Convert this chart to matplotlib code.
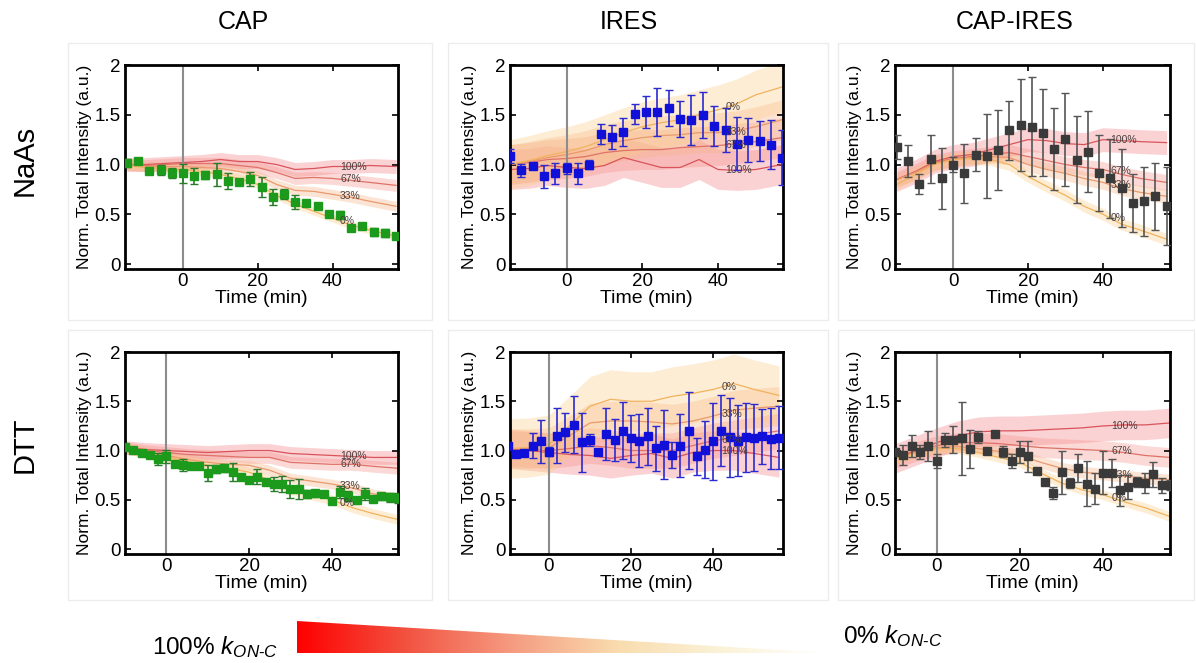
import numpy as np
import matplotlib
matplotlib.use("Agg")
import matplotlib.pyplot as plt
from matplotlib.colors import LinearSegmentedColormap
from matplotlib.patches import Polygon, Rectangle

plt.rcParams['font.family'] = ['Liberation Sans', 'DejaVu Sans']
plt.rcParams['mathtext.fontset'] = 'custom'
plt.rcParams['mathtext.rm'] = 'Liberation Sans'
plt.rcParams['mathtext.it'] = 'Liberation Sans:italic'

# time points of the measurements
t_top = np.arange(-15, 58, 3)
t_bot = np.arange(-10, 57, 2)
# time grid of the model curves
tm_top = [-15, -10, -5, 0, 5, 10, 15, 20, 25, 30, 35, 40, 45, 50, 57]
tm_bot = [-10, -5, 0, 5, 10, 15, 20, 25, 30, 35, 40, 45, 50, 56]

columns = ['CAP', 'IRES', 'CAP-IRES']
rows = ['NaAs', 'DTT']
model_labels = ['100%', '67%', '33%', '0%']

# CAP / NaAs
a_y = [1.02, 1.035, 0.935, 0.945, 0.91, 0.91, 0.88, 0.89, 0.90, 0.83, 0.82, 0.85, 0.77,
       0.67, 0.70, 0.62, 0.61, 0.58, 0.50, 0.49, 0.365, 0.38, 0.325, 0.31, 0.285]
a_err = [0.04, 0.02, 0.02, 0.05, 0.05, 0.1, 0.08, 0.04, 0.12, 0.08, 0.02, 0.07, 0.1,
         0.08, 0.05, 0.07, 0.03, 0.03, 0.02, 0.04, 0.02, 0.02, 0.04, 0.04, 0.03]
a_m100 = [1.0, 1.0, 1.01, 1.02, 1.03, 1.05, 1.03, 1.03, 1.0, 0.95, 0.96, 0.98, 0.98, 0.99, 0.98]
a_m67 = [1.0, 0.99, 1.0, 1.01, 1.01, 1.01, 0.99, 0.97, 0.92, 0.86, 0.87, 0.86, 0.84, 0.82, 0.79]
a_m33 = [1.0, 0.98, 0.98, 0.98, 0.97, 0.96, 0.93, 0.89, 0.8, 0.74, 0.73, 0.7, 0.67, 0.63, 0.58]
a_m0 = [0.99, 0.97, 0.96, 0.95, 0.93, 0.9, 0.86, 0.8, 0.69, 0.6, 0.53, 0.46, 0.39, 0.34, 0.28]
a_w = [0.07, 0.06, 0.05, 0.04]

# IRES / NaAs
b_y = [1.09, 0.94, 0.99, 0.88, 0.91, 0.96, 0.91, 1.0, 1.31, 1.28, 1.33, 1.51, 1.53,
       1.53, 1.57, 1.46, 1.45, 1.5, 1.39, 1.35, 1.21, 1.25, 1.24, 1.2, 1.07]
b_err = [0.07, 0.07, 0.03, 0.12, 0.11, 0.06, 0.11, 0.05, 0.1, 0.12, 0.14, 0.1, 0.16,
         0.24, 0.18, 0.18, 0.25, 0.23, 0.2, 0.22, 0.27, 0.22, 0.2, 0.25, 0.28]
b_m100 = [0.95, 0.96, 0.99, 0.97, 0.96, 0.99, 1.07, 1.02, 0.97, 0.97, 1.05, 0.95, 0.94, 0.95, 1.0]
b_m67 = [1.0, 1.02, 1.05, 1.06, 1.08, 1.12, 1.14, 1.15, 1.15, 1.17, 1.18, 1.19, 1.21, 1.23, 1.27]
b_m33 = [1.0, 1.03, 1.07, 1.1, 1.14, 1.2, 1.24, 1.27, 1.29, 1.3, 1.32, 1.32, 1.34, 1.38, 1.45]
b_m0 = [1.0, 1.04, 1.09, 1.13, 1.18, 1.25, 1.32, 1.38, 1.42, 1.45, 1.5, 1.55, 1.61, 1.7, 1.78]
b_w = [0.2, 0.2, 0.2, 0.25]

# CAP-IRES / NaAs
c_y = [1.175, 1.034, 0.8, 1.057, 0.86, 1.0, 0.91, 1.1, 1.084, 1.145, 1.343, 1.397, 1.38,
       1.32, 1.158, 1.253, 1.05, 1.13, 0.916, 0.86, 0.764, 0.613, 0.63, 0.68, 0.586]
c_err = [0.12, 0.16, 0.1, 0.24, 0.31, 0.08, 0.3, 0.17, 0.42, 0.4, 0.3, 0.46, 0.5,
         0.44, 0.41, 0.47, 0.44, 0.41, 0.38, 0.4, 0.39, 0.29, 0.35, 0.34, 0.39]
c_m100 = [0.85, 0.93, 1.03, 1.08, 1.1, 1.15, 1.2, 1.25, 1.24, 1.21, 1.2, 1.25, 1.24, 1.23, 1.22]
c_m67 = [0.85, 0.93, 1.02, 1.06, 1.08, 1.1, 1.12, 1.08, 1.04, 1.0, 0.97, 0.95, 0.9, 0.86, 0.82]
c_m33 = [0.85, 0.92, 1.01, 1.05, 1.07, 1.08, 1.07, 1.0, 0.95, 0.91, 0.86, 0.82, 0.76, 0.72, 0.68]
c_m0 = [0.8, 0.9, 1.0, 1.05, 1.06, 1.05, 1.0, 0.88, 0.78, 0.69, 0.58, 0.5, 0.4, 0.34, 0.25]
c_w = [0.12, 0.08, 0.07, 0.06]

# CAP / DTT
d_y = [1.04, 1.007, 0.98, 0.953, 0.912, 0.94, 0.86, 0.85, 0.845, 0.84, 0.77, 0.81, 0.82,
       0.78, 0.733, 0.70, 0.736, 0.676, 0.66, 0.66, 0.608, 0.608, 0.557, 0.564, 0.557,
       0.49, 0.58, 0.54, 0.5, 0.557, 0.507, 0.534, 0.524, 0.517]
d_err = [0.02, 0.02, 0.02, 0.02, 0.06, 0.07, 0.02, 0.06, 0.03, 0.02, 0.08, 0.04, 0.04,
         0.09, 0.03, 0.03, 0.08, 0.03, 0.07, 0.08, 0.09, 0.1, 0.04, 0.04, 0.03,
         0.03, 0.06, 0.05, 0.03, 0.06, 0.03, 0.04, 0.05, 0.05]
d_m100 = [1.03, 1.01, 1.0, 0.99, 0.98, 0.99, 1.0, 1.0, 0.97, 0.96, 0.95, 0.94, 0.93, 0.93]
d_m67 = [1.03, 1.0, 0.98, 0.96, 0.95, 0.94, 0.93, 0.93, 0.88, 0.87, 0.86, 0.86, 0.84, 0.82]
d_m33 = [1.03, 0.99, 0.95, 0.91, 0.88, 0.86, 0.85, 0.8, 0.72, 0.69, 0.66, 0.62, 0.56, 0.52]
d_m0 = [1.02, 0.97, 0.93, 0.89, 0.85, 0.82, 0.78, 0.7, 0.6, 0.55, 0.5, 0.42, 0.36, 0.3]
d_w = [0.07, 0.06, 0.05, 0.05]

# IRES / DTT
e_y = [1.05, 0.966, 0.976, 1.05, 1.094, 0.99, 1.15, 1.185, 1.26, 1.084, 1.108, 0.983, 1.168,
       1.108, 1.2, 1.125, 1.1, 1.145, 1.024, 1.057, 0.956, 1.05, 1.2, 0.94, 1.01,
       1.094, 1.2, 1.135, 1.1, 1.135, 1.128, 1.145, 1.118, 1.128]
e_err = [0.03, 0.02, 0.02, 0.13, 0.22, 0.05, 0.28, 0.2, 0.29, 0.3, 0.06, 0.02, 0.26,
         0.21, 0.29, 0.24, 0.27, 0.29, 0.23, 0.35, 0.13, 0.32, 0.39, 0.19, 0.29,
         0.39, 0.36, 0.4, 0.36, 0.35, 0.34, 0.28, 0.31, 0.32]
e_m100 = [1.02, 1.0, 0.98, 0.96, 0.95, 0.92, 0.95, 0.97, 0.92, 0.98, 1.0, 1.0, 0.97, 0.93]
e_m67 = [1.02, 1.01, 1.0, 1.02, 1.05, 1.03, 1.0, 1.0, 1.0, 1.05, 1.1, 1.13, 1.16, 1.2]
e_m33 = [1.02, 1.02, 1.03, 1.15, 1.28, 1.3, 1.3, 1.29, 1.27, 1.3, 1.35, 1.41, 1.43, 1.45]
e_m0 = [1.02, 1.03, 1.06, 1.25, 1.45, 1.52, 1.5, 1.5, 1.55, 1.58, 1.62, 1.68, 1.62, 1.56]
e_w = [0.2, 0.18, 0.2, 0.3]

# CAP-IRES / DTT
f_y = [0.99, 0.956, 1.044, 0.983, 1.044, 0.89, 1.11, 1.11, 1.125, 1.017, 1.135, 1.0, 1.168,
       0.99, 0.892, 0.983, 0.94, 0.788, 0.68, 0.57, 0.78, 0.673, 0.82, 0.663, 0.613,
       0.774, 0.77, 0.596, 0.63, 0.68, 0.67, 0.758, 0.646, 0.646]
f_err = [0.03, 0.1, 0.11, 0.07, 0.15, 0.07, 0.07, 0.14, 0.37, 0.19, 0.06, 0.01, 0.03,
         0.06, 0.07, 0.11, 0.16, 0.01, 0.01, 0.06, 0.22, 0.05, 0.14, 0.23, 0.16,
         0.22, 0.14, 0.16, 0.12, 0.05, 0.1, 0.13, 0.08, 0.05]
f_m100 = [0.92, 1.0, 1.08, 1.15, 1.19, 1.2, 1.2, 1.21, 1.22, 1.23, 1.25, 1.26, 1.26, 1.28]
f_m67 = [0.92, 0.99, 1.05, 1.08, 1.08, 1.07, 1.05, 1.03, 1.02, 1.01, 1.0, 0.98, 0.95, 0.93]
f_m33 = [0.92, 0.98, 1.03, 1.04, 1.02, 0.99, 0.95, 0.88, 0.82, 0.78, 0.76, 0.74, 0.72, 0.7]
f_m0 = [0.92, 0.97, 1.02, 1.02, 0.98, 0.93, 0.88, 0.77, 0.67, 0.6, 0.55, 0.48, 0.42, 0.33]
f_w = [0.15, 0.1, 0.06, 0.05]

line_cols = ['#d9545a', '#df7268', '#e99a6c', '#f0b35e']
band_cols = ['#f47f86', '#f4928a', '#f7b487', '#fbcd86']
point_cols = ['#1c9a1c', '#1010d8', '#3a3a3a']
bar_cols = ['#2c7a2c', '#2a2ad0', '#555555']

panels = [
    (0, 0, t_top, a_y, a_err, tm_top, [a_m100, a_m67, a_m33, a_m0], a_w, (-15.5, 57.5)),
    (0, 1, t_top, b_y, b_err, tm_top, [b_m100, b_m67, b_m33, b_m0], b_w, (-15, 57.2)),
    (0, 2, t_top, c_y, c_err, tm_top, [c_m100, c_m67, c_m33, c_m0], c_w, (-15.5, 57.9)),
    (1, 0, t_bot, d_y, d_err, tm_bot, [d_m100, d_m67, d_m33, d_m0], d_w, (-10, 56)),
    (1, 1, t_bot, e_y, e_err, tm_bot, [e_m100, e_m67, e_m33, e_m0], e_w, (-9.5, 57)),
    (1, 2, t_bot, f_y, f_err, tm_bot, [f_m100, f_m67, f_m33, f_m0], f_w, (-10, 56)),
]

fig = plt.figure(figsize=(11.96, 6.63), dpi=100)
W, H = 1196, 663
col_x = [125, 510, 895]
col_w = [273, 273, 275]
row_top = [65, 352]
row_h = [204, 202]

# faint frames around each panel
frames_x = [(68, 432), (448, 828), (838, 1194)]
frames_y = [(43, 320), (330, 600)]
for fx in frames_x:
    for fy in frames_y:
        fig.patches.append(Rectangle((fx[0] / W, 1 - fy[1] / H), (fx[1] - fx[0]) / W,
                                     (fy[1] - fy[0]) / H, transform=fig.transFigure,
                                     fill=False, edgecolor='#ececec', lw=1))

for r, c, t, y, err, tm, curves, widths, xl in panels:
    ax = fig.add_axes([col_x[c] / W, 1 - (row_top[r] + row_h[r]) / H, col_w[c] / W, row_h[r] / H])
    for k in range(4):
        m = np.array(curves[k])
        ax.fill_between(tm, m - widths[k], m + widths[k], color=band_cols[k], alpha=0.35, lw=0)
    for k in range(4):
        ax.plot(tm, curves[k], color=line_cols[k], lw=0.9)
    ax.axvline(0, color='#8c8c8c', lw=1.5, zorder=2)
    ax.errorbar(t, y, yerr=err, fmt='s', ms=6, color=point_cols[c], mfc=point_cols[c],
                mec=point_cols[c], ecolor=bar_cols[c], elinewidth=1.2, capsize=3,
                capthick=1.0, zorder=3)
    for k in range(4):
        ly = np.interp(42, tm, curves[k])
        ax.text(42, ly, model_labels[k], fontsize=7.5, color='#4a4040', va='center',
                ha='left', zorder=4)
    ax.set_xlim(*xl)
    ax.set_ylim(-0.05, 2.0)
    ax.set_xticks([0, 20, 40])
    ax.set_yticks([0, 0.5, 1.0, 1.5, 2.0])
    ax.set_yticklabels(['0', '0.5', '1.0', '1.5', '2'])
    ax.tick_params(direction='in', top=True, right=True, labelsize=13.5, length=4,
                   width=1.2, pad=3)
    for s in ax.spines.values():
        s.set_linewidth(2.0)
    ax.set_xlabel('Time (min)', fontsize=14, labelpad=0)
    ax.set_ylabel('Norm. Total Intensity (a.u.)', fontsize=12.5, labelpad=2)

for c, name in enumerate(columns):
    fig.text((col_x[c] + col_w[c] / 2 - 18) / W, 1 - 22 / H, name, fontsize=18,
             ha='center', va='center')
for r, name in enumerate(rows):
    fig.text(25 / W, 1 - [160, 445][r] / H, name, fontsize=21, rotation=90,
             ha='center', va='center')

# gradient wedge for k_ON-C
gax = fig.add_axes([297 / W, 1 - 653 / H, 533 / W, 32 / H])
cmap = LinearSegmentedColormap.from_list('kon', ['#ff0000', '#f2513f', '#f59a80',
                                                 '#f9dcae', '#fbf2d8', '#ffffff'])
grad = np.linspace(0, 1, 256)[None, :]
im = gax.imshow(grad, cmap=cmap, aspect='auto', extent=[0, 1, 0, 1])
tri = Polygon([[0, 0], [0, 1], [1, 0]], closed=True, transform=gax.transData)
im.set_clip_path(tri)
gax.set_xlim(0, 1)
gax.set_ylim(0, 1)
gax.axis('off')

fig.text(152 / W, 1 - 647 / H, r'100% $k_{ON\text{-}C}$', fontsize=17.5, ha='left', va='center')
fig.text(843 / W, 1 - 636 / H, r'0% $k_{ON\text{-}C}$', fontsize=17.5, ha='left', va='center')

fig.savefig('out.png', dpi=100)
